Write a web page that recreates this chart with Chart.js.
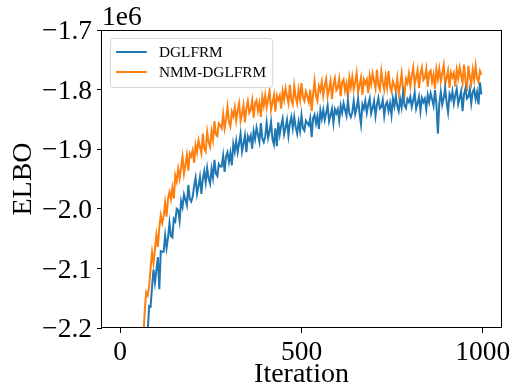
<!DOCTYPE html>
<html>
<head>
<meta charset="utf-8">
<script src="https://cdn.jsdelivr.net/npm/chart.js@4.4.0/dist/chart.umd.min.js"></script>
<style>
  html, body { margin: 0; padding: 0; background: #fff; }
  #elbo_chart { display: block; }
</style>
</head>
<body>
<canvas id="elbo_chart" width="513" height="387"></canvas>
<script>
// ELBO per iteration, in units of 1e6, one value every ITER_STEP iterations
const ITER_STEP = 4;
const seriesNames = ["DGLFRM", "NMM-DGLFRM"];

const dglfrm = [
  -4.80,-4.52,-4.31,-4.05,-3.86,-3.66,-3.49,-3.31,-3.16,-3.02,
  -2.90,-2.79,-2.68,-2.58,-2.49,-2.41,-2.35,-2.29,-2.24,-2.205,
  -2.163,-2.164,-2.131,-2.102,-2.124,-2.103,-2.081,-2.135,-2.071,-2.072,
  -2.072,-2.045,-2.066,-2.048,-2.024,-2.046,-2.048,-2.017,-2.021,-2.000,
  -2.002,-2.020,-1.987,-1.997,-1.976,-1.985,-1.994,-1.960,-1.984,-1.988,
  -1.980,-1.961,-1.948,-1.975,-1.962,-1.947,-1.975,-1.950,-1.937,-1.956,
  -1.932,-1.949,-1.958,-1.933,-1.948,-1.918,-1.941,-1.945,-1.925,-1.929,
  -1.929,-1.911,-1.938,-1.912,-1.905,-1.921,-1.906,-1.927,-1.891,-1.904,
  -1.886,-1.905,-1.890,-1.874,-1.904,-1.891,-1.877,-1.905,-1.878,-1.885,
  -1.877,-1.899,-1.870,-1.883,-1.864,-1.876,-1.888,-1.856,-1.882,-1.888,
  -1.879,-1.856,-1.881,-1.870,-1.854,-1.883,-1.892,-1.865,-1.895,-1.855,
  -1.875,-1.860,-1.849,-1.875,-1.864,-1.851,-1.877,-1.856,-1.846,-1.865,
  -1.846,-1.863,-1.874,-1.854,-1.869,-1.843,-1.865,-1.869,-1.852,-1.856,
  -1.860,-1.848,-1.880,-1.848,-1.842,-1.857,-1.845,-1.866,-1.835,-1.849,
  -1.834,-1.851,-1.839,-1.827,-1.853,-1.843,-1.832,-1.856,-1.833,-1.840,
  -1.833,-1.852,-1.827,-1.839,-1.823,-1.834,-1.844,-1.818,-1.840,-1.846,
  -1.838,-1.819,-1.841,-1.831,-1.816,-1.839,-1.858,-1.825,-1.832,-1.819,
  -1.839,-1.825,-1.815,-1.840,-1.831,-1.819,-1.844,-1.825,-1.814,-1.832,
  -1.829,-1.817,-1.844,-1.826,-1.821,-1.836,-1.823,-1.843,-1.815,-1.828,
  -1.811,-1.827,-1.836,-1.816,-1.830,-1.806,-1.827,-1.831,-1.816,-1.821,
  -1.812,-1.829,-1.818,-1.805,-1.832,-1.823,-1.812,-1.836,-1.814,-1.821,
  -1.815,-1.833,-1.809,-1.821,-1.806,-1.816,-1.827,-1.801,-1.824,-1.874,
  -1.823,-1.804,-1.825,-1.814,-1.798,-1.821,-1.838,-1.808,-1.816,-1.803,
  -1.823,-1.809,-1.799,-1.824,-1.814,-1.803,-1.836,-1.808,-1.798,-1.815,
  -1.812,-1.799,-1.823,-1.804,-1.799,-1.816,-1.804,-1.825,-1.788,-1.808
];

const nmmDglfrm = [
  -4.55,-4.27,-4.02,-3.79,-3.58,-3.39,-3.21,-3.05,-2.91,-2.78,
  -2.62,-2.52,-2.44,-2.37,-2.31,-2.27,-2.215,-2.170,-2.140,-2.145,
  -2.130,-2.099,-2.073,-2.091,-2.068,-2.044,-2.064,-2.031,-2.011,-2.024,
  -2.012,-1.990,-2.013,-1.983,-1.972,-1.984,-1.965,-1.983,-1.944,-1.954,
  -1.933,-1.949,-1.931,-1.913,-1.941,-1.926,-1.910,-1.936,-1.907,-1.912,
  -1.902,-1.923,-1.893,-1.905,-1.885,-1.896,-1.907,-1.874,-1.899,-1.904,
  -1.871,-1.888,-1.896,-1.870,-1.884,-1.853,-1.875,-1.878,-1.857,-1.860,
  -1.865,-1.841,-1.865,-1.850,-1.829,-1.854,-1.862,-1.837,-1.845,-1.830,
  -1.852,-1.835,-1.823,-1.852,-1.840,-1.826,-1.855,-1.831,-1.819,-1.839,
  -1.834,-1.818,-1.847,-1.823,-1.818,-1.836,-1.823,-1.846,-1.812,-1.827,
  -1.810,-1.830,-1.816,-1.802,-1.834,-1.822,-1.809,-1.837,-1.810,-1.817,
  -1.810,-1.832,-1.803,-1.817,-1.798,-1.811,-1.823,-1.792,-1.818,-1.825,
  -1.794,-1.813,-1.823,-1.800,-1.817,-1.789,-1.813,-1.819,-1.803,-1.811,
  -1.821,-1.800,-1.836,-1.808,-1.786,-1.811,-1.819,-1.794,-1.802,-1.787,
  -1.810,-1.793,-1.782,-1.811,-1.800,-1.786,-1.816,-1.792,-1.781,-1.801,
  -1.797,-1.782,-1.811,-1.788,-1.783,-1.802,-1.790,-1.813,-1.780,-1.796,
  -1.779,-1.800,-1.787,-1.772,-1.804,-1.793,-1.780,-1.809,-1.783,-1.790,
  -1.783,-1.806,-1.777,-1.791,-1.773,-1.785,-1.798,-1.767,-1.793,-1.800,
  -1.769,-1.788,-1.800,-1.778,-1.796,-1.769,-1.795,-1.803,-1.786,-1.793,
  -1.802,-1.781,-1.807,-1.793,-1.773,-1.799,-1.808,-1.782,-1.789,-1.773,
  -1.794,-1.776,-1.763,-1.792,-1.780,-1.767,-1.797,-1.774,-1.763,-1.784,
  -1.780,-1.765,-1.795,-1.772,-1.768,-1.787,-1.775,-1.799,-1.766,-1.782,
  -1.765,-1.786,-1.773,-1.759,-1.791,-1.780,-1.768,-1.797,-1.771,-1.779,
  -1.772,-1.795,-1.767,-1.781,-1.763,-1.776,-1.789,-1.758,-1.785,-1.803,
  -1.760,-1.779,-1.790,-1.767,-1.784,-1.760,-1.781,-1.787,-1.769,-1.775
];

const xTicks = [0, 500, 1000];
const xTickLabels = ["0", "500", "1000"];
const yTicks = [-2.2, -2.1, -2.0, -1.9, -1.8, -1.7];
const yTickLabels = ["\u22122.2", "\u22122.1", "\u22122.0", "\u22121.9", "\u22121.8", "\u22121.7"];
const offsetLabel = "1e6";
const xTitle = "Iteration";
const yTitle = "ELBO";

const lineColors = ["#1f77b4", "#ff7f0e"];
const SERIF = "'Liberation Serif', 'Times New Roman', serif";

function buildPoints(values) {
  return values.map(function (v, i) { return { x: i * ITER_STEP, y: v }; });
}

// axes box, the 1e6 offset text and a matplotlib-like legend box
const frameAndLegend = {
  id: "frameAndLegend",
  afterDraw: function (chart) {
    const ctx = chart.ctx;
    const a = chart.chartArea;
    ctx.save();
    ctx.strokeStyle = "#000";
    ctx.lineWidth = 1;
    ctx.strokeRect(Math.round(a.left) - 0.5, Math.round(a.top) + 0.5,
      Math.round(a.right - a.left) + 1, Math.round(a.bottom - a.top) - 1);

    ctx.fillStyle = "#000";
    ctx.font = "27.5px " + SERIF;
    ctx.textAlign = "left";
    ctx.textBaseline = "alphabetic";
    ctx.fillText(offsetLabel, a.left, a.top - 5);

    // legend
    const fs = 15.3;
    ctx.font = fs + "px " + SERIF;
    const pad = 0.4 * fs, handle = 2 * fs, gap = 0.8 * fs, rowH = 20;
    let textW = 0;
    seriesNames.forEach(function (n) { textW = Math.max(textW, ctx.measureText(n).width); });
    const bx = a.left + 8, by = a.top + 8;
    const bw = pad * 2 + handle + gap + textW, bh = 49;
    ctx.beginPath();
    ctx.roundRect(bx + 0.5, by + 0.5, bw, bh, 3);
    ctx.fillStyle = "rgba(255,255,255,0.8)";
    ctx.fill();
    ctx.strokeStyle = "#d6d6d6";
    ctx.stroke();
    ctx.textBaseline = "middle";
    seriesNames.forEach(function (n, i) {
      const cy = by + 14 + i * rowH;
      ctx.beginPath();
      ctx.strokeStyle = lineColors[i];
      ctx.lineWidth = 2;
      ctx.moveTo(bx + pad, cy);
      ctx.lineTo(bx + pad + handle, cy);
      ctx.stroke();
      ctx.fillStyle = "#000";
      ctx.fillText(n, bx + pad + handle + gap, cy + 1);
    });
    ctx.restore();
  }
};

new Chart("elbo_chart", {
  type: "line",
  data: {
    datasets: [{
      label: seriesNames[0],
      data: buildPoints(dglfrm),
      borderColor: lineColors[0],
      borderWidth: 2,
      pointRadius: 0,
      fill: false
    }, {
      label: seriesNames[1],
      data: buildPoints(nmmDglfrm),
      borderColor: lineColors[1],
      borderWidth: 2,
      pointRadius: 0,
      fill: false
    }]
  },
  options: {
    responsive: false,
    animation: false,
    events: [],
    layout: { padding: { left: 0, top: 30, right: 12, bottom: 0 } },
    plugins: {
      legend: { display: false },
      title: { display: false },
      tooltip: { enabled: false }
    },
    scales: {
      x: {
        type: "linear",
        min: -50,
        max: 1050,
        afterBuildTicks: function (axis) {
          axis.ticks = xTicks.map(function (v) { return { value: v }; });
        },
        afterFit: function (scale) {
          scale.height = 59;
          scale.paddingLeft = 0;
          scale.paddingRight = 0;
        },
        ticks: {
          color: "#000",
          font: { family: SERIF, size: 27.5 },
          padding: 3,
          maxRotation: 0,
          callback: function (value) {
            const i = xTicks.indexOf(value);
            return i >= 0 ? xTickLabels[i] : "";
          }
        },
        grid: { drawOnChartArea: false, drawTicks: true, tickLength: 5, color: "#000" },
        border: { display: false },
        title: {
          display: true,
          text: xTitle,
          color: "#000",
          font: { family: SERIF, size: 28, lineHeight: 0.86 },
          padding: { top: 0, bottom: 0 }
        }
      },
      y: {
        type: "linear",
        min: -2.2,
        max: -1.7,
        afterBuildTicks: function (axis) {
          axis.ticks = yTicks.map(function (v) { return { value: v }; });
        },
        afterFit: function (scale) {
          scale.width = 102;
          scale.paddingTop = 0;
          scale.paddingBottom = 0;
        },
        ticks: {
          color: "#000",
          font: { family: SERIF, size: 27.5 },
          padding: 5,
          labelOffset: 2,
          callback: function (value) {
            const i = yTicks.findIndex(function (t) { return Math.abs(t - value) < 1e-9; });
            return i >= 0 ? yTickLabels[i] : "";
          }
        },
        grid: { drawOnChartArea: false, drawTicks: true, tickLength: 5, color: "#000" },
        border: { display: false },
        title: {
          display: true,
          text: yTitle,
          color: "#000",
          font: { family: SERIF, size: 28 },
          padding: { top: 7, bottom: 0 }
        }
      }
    }
  },
  plugins: [frameAndLegend]
});
</script>
</body>
</html>
